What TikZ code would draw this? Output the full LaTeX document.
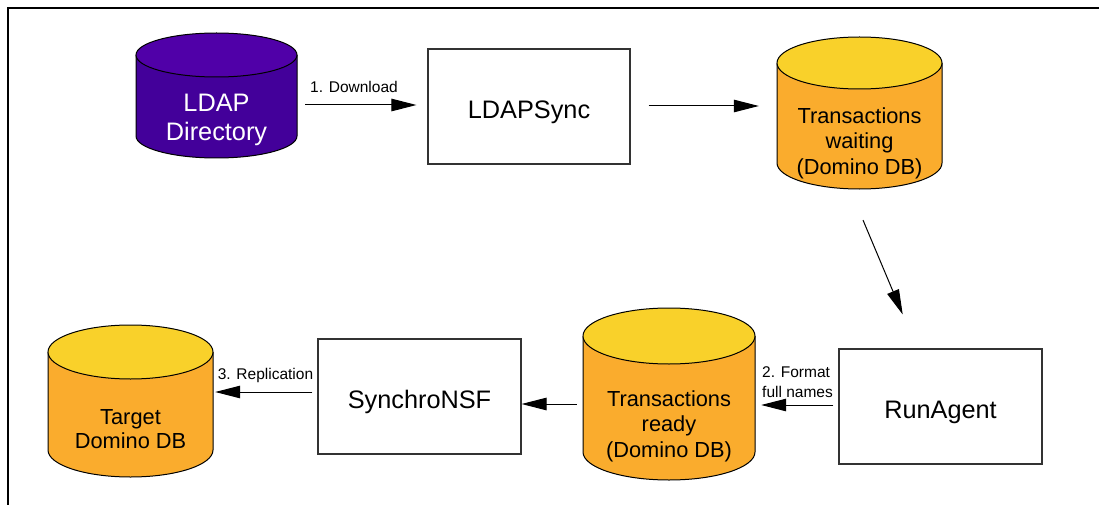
\documentclass[tikz,border=0pt]{standalone}
\usepackage{fontspec}
\setmainfont{Liberation Sans}
\usetikzlibrary{arrows.meta}
\definecolor{ldaptop}{HTML}{5000A8}
\definecolor{ldapbody}{HTML}{43009A}
\definecolor{dbtop}{HTML}{F9D12A}
\definecolor{dbbody}{HTML}{FAAC2D}
\tikzset{
  box/.style={draw=black!80, line width=1.1pt, minimum width=203pt, minimum height=115pt,
    inner sep=0pt, font=\fontsize{25.3}{29}\selectfont, text height=23.5pt, text depth=0pt},
  arr/.style={draw=black, line width=1pt, -{Triangle[length=25pt,width=12.5pt]}},
  lbl/.style={font=\fontsize{15.5}{20}\selectfont, inner sep=0pt},
  cyltext/.style={font=\fontsize{21.8}{25.5}\selectfont, align=center, inner sep=0pt},
  cylline/.style={draw=black, line width=1pt},
  cylbound/.style={draw=none, inner sep=0pt, rectangle},
}
% #1 name, #2 cx, #3 top ellipse centre y, #4 bottom ellipse centre y, #5 rx, #6 ry, #7 top colour, #8 body colour
\newcommand\dbcyl[8]{%
  \filldraw[cylline, fill=#8] (#2-#5,#3) -- (#2-#5,#4)
    arc[start angle=180, end angle=360, x radius=#5pt, y radius=#6pt] -- (#2+#5,#3);
  \filldraw[cylline, fill=#7] (#2,#3) ellipse[x radius=#5pt, y radius=#6pt];
  \node[cylbound, minimum width=#5pt*2, minimum height={(#4-#3+2*#6)*1pt}] (#1) at (#2,{(#3+#4)/2}) {};
}
\begin{document}
\begin{tikzpicture}[x=1pt, y=-1pt]
\useasboundingbox (0,0) rectangle (1099,505);
\fill[white] (0,0) rectangle (1099,505);
% frame
\draw[line width=2.3pt] (7.8,505) -- (7.8,7.8) -- (1099,7.8);

% cylinders
\dbcyl{ldap}{216.5}{55}{136}{80.5}{22}{ldaptop}{ldapbody}
\node[cyltext, text=white, font=\fontsize{25.3}{29}\selectfont] (ldap-t) at (216.5,120) {LDAP\\Directory};

\dbcyl{wait}{859.5}{63}{163}{82.5}{26}{dbtop}{dbbody}
\node[cyltext] (wait-t) at (859.5,143) {Transactions\\waiting\\(Domino DB)};

\dbcyl{ready}{669}{336}{452}{86}{28}{dbtop}{dbbody}
\node[cyltext] (ready-t) at (669,426) {Transactions\\ready\\(Domino DB)};

\dbcyl{target}{130.5}{352}{450}{82.5}{27}{dbtop}{dbbody}
\node[cyltext, font=\fontsize{21.8}{24.5}\selectfont] (target-t) at (130.5,429) {Target\\Domino DB};

% process boxes
\node[box, minimum width=202pt] (sync) at (529,106.5) {LDAPSync};
\node[box] (run) at (940.5,406.5) {RunAgent};
\node[box] (synchro) at (419.5,396.5) {SynchroNSF};

% connectors
\draw[arr, shorten <=8pt, shorten >=11pt] (ldap.east |- 0,105) -- (sync.west |- 0,105);
\draw[arr, shorten <=18pt, shorten >=18pt] (sync.east |- 0,106) -- (wait.west |- 0,106);
\draw[arr, shorten <=33.6pt, shorten >=36.8pt] (wait.south -| 850,0) -- (run.north -| 917,0);
\draw[arr, shorten <=5pt, shorten >=6pt] (run.west |- 0,405) -- (ready.east |- 0,405);
\draw[arr, shorten <=6pt] (ready.west |- 0,404) -- (synchro.east |- 0,404);
\draw[arr, shorten <=5pt, shorten >=2pt] (synchro.west |- 0,392) -- (target.east |- 0,392);

% connector labels
\node[lbl] (l1) at (354,87) {1. Download};
\node[lbl, align=left, anchor=west] (l2) at (762,382) {2. Format\\full names};
\node[lbl] (l3) at (265.5,375.6) {3. Replication};
\end{tikzpicture}
\end{document}
